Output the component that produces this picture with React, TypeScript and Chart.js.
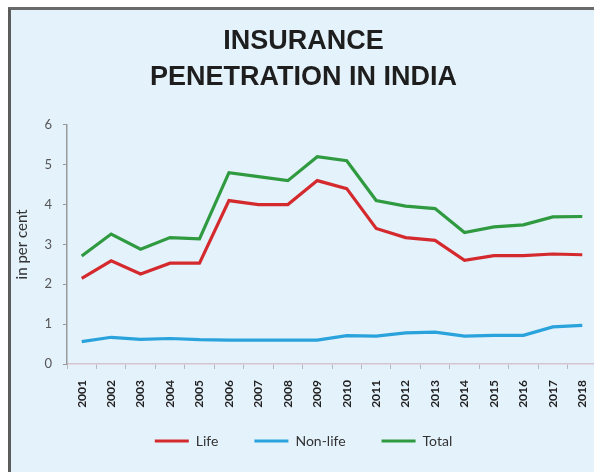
import React, { useEffect, useRef } from "react";
import { Chart, registerables } from "chart.js";

Chart.register(...registerables);

// Insurance penetration (premium as % of GDP), 2001–2018
const years = [
  "2001", "2002", "2003", "2004", "2005", "2006", "2007", "2008", "2009",
  "2010", "2011", "2012", "2013", "2014", "2015", "2016", "2017", "2018",
];
const lifeValues = [2.15, 2.59, 2.26, 2.53, 2.53, 4.1, 4.0, 4.0, 4.6, 4.4, 3.4, 3.17, 3.1, 2.6, 2.72, 2.72, 2.76, 2.74];
const nonLifeValues = [0.56, 0.67, 0.62, 0.64, 0.61, 0.6, 0.6, 0.6, 0.6, 0.71, 0.7, 0.78, 0.8, 0.7, 0.72, 0.72, 0.93, 0.97];
const totalValues = [2.71, 3.26, 2.88, 3.17, 3.14, 4.8, 4.7, 4.6, 5.2, 5.1, 4.1, 3.96, 3.9, 3.3, 3.44, 3.49, 3.69, 3.7];
const yTicks = [0, 1, 2, 3, 4, 5, 6];

const LIFE = "#d42a2e";
const NON_LIFE = "#2aa3dc";
const TOTAL = "#2f9a3f";

// The legend keeps wide horizontal gaps between entries; this pulls it up
// closer to the year labels instead of leaving the matching vertical gap.
const LEGEND_TOP = 398;
const legendPlacement = {
  id: "legendPlacement",
  afterLayout(chart: any) {
    const lg = chart.legend;
    if (!lg) return;
    const dy = lg.top - LEGEND_TOP;
    lg.top -= dy;
    lg.bottom -= dy;
  },
};

export default function App() {
  const canvasRef = useRef<HTMLCanvasElement | null>(null);

  useEffect(() => {
    document.body.style.margin = "0";
    document.body.style.overflow = "hidden";
    const canvas = canvasRef.current;
    if (!canvas) return;

    const chart = new Chart(canvas, {
      type: "line",
      data: {
        labels: years,
        datasets: [
          { label: "Life", data: lifeValues, borderColor: LIFE, backgroundColor: LIFE },
          { label: "Non-life", data: nonLifeValues, borderColor: NON_LIFE, backgroundColor: NON_LIFE },
          { label: "Total", data: totalValues, borderColor: TOTAL, backgroundColor: TOTAL },
        ].map((d) => ({ ...d, borderWidth: 3.2, pointRadius: 0, tension: 0, fill: false })),
      },
      options: {
        animation: false,
        responsive: false,
        devicePixelRatio: 1,
        layout: { padding: { left: 10, right: 13, top: 0, bottom: 26 } },
        plugins: {
          tooltip: { enabled: false },
          title: {
            display: true,
            text: ["INSURANCE", "PENETRATION IN INDIA"],
            color: "#1e1e1e",
            font: { family: "'Liberation Sans', Arial, sans-serif", size: 27, weight: "bold", lineHeight: 1.33 },
            padding: { top: 24, bottom: 29 },
          },
          legend: {
            position: "bottom",
            labels: {
              boxWidth: 34,
              boxHeight: 3,
              padding: 36,
              color: "#333",
              font: { family: "Lato, 'Open Sans', sans-serif", size: 14 },
              generateLabels: (c: Chart) =>
                Chart.defaults.plugins.legend.labels
                  .generateLabels(c)
                  .map((item: any) => ({ ...item, lineWidth: 0 })),
            },
          },
        },
        scales: {
          x: {
            type: "category",
            offset: true,
            afterFit: (scale: any) => {
              scale.height = 50;
            },
            grid: {
              offset: true,
              drawOnChartArea: false,
              drawTicks: true,
              tickLength: 5,
              color: "#b8b8c0",
            },
            border: { color: "#d8c4cc", width: 1.5 },
            ticks: {
              autoSkip: false,
              minRotation: 90,
              maxRotation: 90,
              padding: 11,
              color: "#222",
              font: { family: "Lato, 'Open Sans', sans-serif", size: 12, weight: "bold" },
            },
          },
          y: {
            min: 0,
            max: 6,
            afterFit: (scale: any) => {
              scale.width = 57;
            },
            afterBuildTicks: (scale: any) => {
              scale.ticks = yTicks.map((v) => ({ value: v }));
            },
            grid: {
              drawOnChartArea: false,
              drawTicks: true,
              tickLength: 4,
              color: "#9a9a9a",
            },
            border: { color: "#9a9a9a", width: 1.5 },
            ticks: {
              padding: 11,
              color: "#555",
              font: { family: "Lato, 'Open Sans', sans-serif", size: 13 },
            },
            title: {
              display: true,
              text: "in per cent",
              color: "#333",
              font: { family: "Lato, 'Open Sans', sans-serif", size: 15 },
              padding: { top: 3, bottom: 0 },
            },
          },
        },
      },
      plugins: [legendPlacement],
    });

    return () => chart.destroy();
  }, []);

  return (
    <div
      style={{
        position: "fixed",
        left: 0,
        top: 0,
        width: 594,
        height: 472,
        overflow: "hidden",
        background: "#ffffff",
      }}
    >
      <div
        style={{
          position: "absolute",
          left: 8,
          top: 7,
          width: 620,
          height: 520,
          background: "#e4f2fc",
          borderLeft: "3px solid #5c5c5c",
          borderTop: "3px solid #6a6a6a",
        }}
      />
      <canvas
        ref={canvasRef}
        width={610}
        height={500}
        style={{ position: "absolute", left: 0, top: 0, width: 610, height: 500 }}
      />
    </div>
  );
}
